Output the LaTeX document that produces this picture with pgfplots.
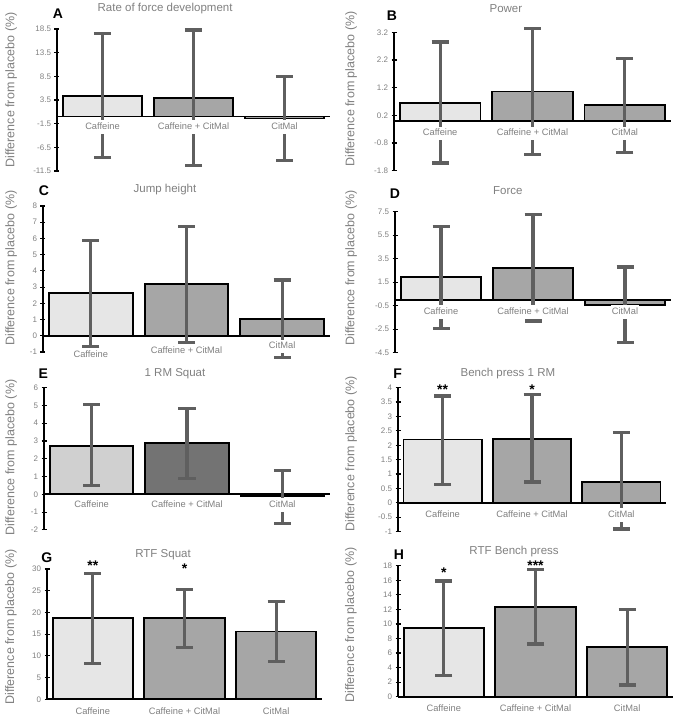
\documentclass[border=0pt]{standalone}
\usepackage{pgfplots}
\pgfplotsset{compat=1.18}
\usepackage{fontspec}
\setmainfont{Liberation Sans}
\definecolor{lightbar}{HTML}{E6E6E6}
\definecolor{midbar}{HTML}{A6A6A6}
\definecolor{elight}{HTML}{D0D0D0}
\definecolor{edark}{HTML}{737373}
\definecolor{errgray}{HTML}{5F5F5F}
\definecolor{txtgray}{HTML}{808080}
\pgfplotsset{
  every axis title shift=0pt,
  panel/.style n args={4}{
    scale only axis,
    clip=false,
    axis x line=middle,
    axis y line=left,
    axis line style={-, black, line width=1.8pt},
    every inner x axis line/.append style={-},
    every outer x axis line/.append style={-},
    every inner y axis line/.append style={-},
    every outer y axis line/.append style={-},
    xmin=-0.5, xmax=2.5,
    xtick=\empty,
    major tick style={black, line width=1.2pt},
    major tick length=5pt,
    tick align=center,
    yticklabel style={font=\fontsize{8}{9}\selectfont, text=txtgray},
    /pgf/number format/assume math mode=true,
    title style={font=\fontsize{11.5}{13}\selectfont, text=txtgray, anchor=center, yshift=0pt, at={(axis description cs:#1,#2)}},
    ylabel={Difference from placebo (\%)},
    ylabel style={font=\fontsize{12.5}{14}\selectfont, text=txtgray, anchor=center, at={(axis description cs:#3,#4)}},
  },
  bars/.style={ybar, bar width=0.875, bar shift=0pt, draw=black, line width=1.8pt, fill=#1,
    error bars/.cd, y dir=both, y explicit,
    error bar style={line width=3.2pt, errgray},
    error mark options={rotate=90, line width=3.2pt, mark size=8.5pt, errgray}},
}
\tikzset{
  xlab/.style={font=\fontsize{9.3}{11}\selectfont, text=txtgray, fill=white, inner xsep=1pt, inner ysep=2.2pt, text height=7pt, text depth=2.3pt, anchor=center},
  sigstar/.style={font=\fontsize{14}{16}\selectfont\bfseries, text=black, anchor=base, inner sep=0pt, yshift=-8pt},
}
\begin{document}
\begin{tikzpicture}[x=1pt,y=1pt]
\useasboundingbox (0,0) rectangle (676,718);

% A
\begin{axis}[panel={0.396}{1.146}{-0.168}{0.57}, at={(57pt,547pt)}, anchor=south west,
  width=273pt, height=142pt, ymin=-11.5, ymax=18.5,
  ytick={-11.5,-6.5,-1.5,3.5,8.5,13.5,18.5}, title={Rate of force development}]
\addplot[bars=lightbar] coordinates {(0,4.35) += (0,13.25) -= (0,13.05)};
\addplot[bars=midbar] coordinates {(1,4.0) += (0,14.3) -= (0,14.4)};
\addplot[bars=midbar] coordinates {(2,-0.4) += (0,8.8) -= (0,8.8)};
\node[xlab, yshift=-10.7pt] at (axis cs:0,0) {Caffeine};
\node[xlab, yshift=-10.7pt] at (axis cs:1,0) {Caffeine + CitMal};
\node[xlab, yshift=-10.7pt] at (axis cs:2,0) {CitMal};
\end{axis}

% B
\begin{axis}[panel={0.404}{1.173}{-0.155}{0.59}, at={(394pt,547.3pt)}, anchor=south west,
  width=277pt, height=138.4pt, ymin=-1.8, ymax=3.2,
  ytick={-1.8,-0.8,0.2,1.2,2.2,3.2}, title={Power}]
\addplot[bars=lightbar] coordinates {(0,0.66) += (0,2.19) -= (0,2.18)};
\addplot[bars=midbar] coordinates {(1,1.06) += (0,2.27) -= (0,2.27)};
\addplot[bars=midbar] coordinates {(2,0.58) += (0,1.66) -= (0,1.71)};
\node[xlab, yshift=-12.7pt] at (axis cs:0,0) {Caffeine};
\node[xlab, yshift=-12.7pt] at (axis cs:1,0) {Caffeine + CitMal};
\node[xlab, yshift=-12.7pt] at (axis cs:2,0) {CitMal};
\end{axis}

% C
\begin{axis}[panel={0.425}{1.11}{-0.111}{0.575}, at={(43pt,366pt)}, anchor=south west,
  width=287pt, height=146pt, ymin=-1, ymax=8,
  ytick={-1,0,1,2,3,4,5,6,7,8}, title={Jump height}]
\addplot[bars=lightbar] coordinates {(0,2.62) += (0,3.24) -= (0,3.30)};
\addplot[bars=midbar] coordinates {(1,3.17) += (0,3.56) -= (0,3.60)};
\addplot[bars=midbar] coordinates {(2,1.01) += (0,2.43) -= (0,2.37)};
\node[xlab, yshift=-19.7pt] at (axis cs:0,0) {Caffeine};
\node[xlab, yshift=-15pt] at (axis cs:1,0) {Caffeine + CitMal};
\node[xlab, yshift=-10.7pt] at (axis cs:2,0) {CitMal};
\end{axis}

% D
\begin{axis}[panel={0.409}{1.149}{-0.159}{0.60}, at={(395pt,365.3pt)}, anchor=south west,
  width=276pt, height=141pt, ymin=-4.5, ymax=7.5,
  ytick={-4.5,-2.5,-0.5,1.5,3.5,5.5,7.5}, title={Force}]
\addplot[bars=lightbar] coordinates {(0,1.94) += (0,4.32) -= (0,4.39)};
\addplot[bars=midbar] coordinates {(1,2.74) += (0,4.51) -= (0,4.54)};
\addplot[bars=midbar] coordinates {(2,-0.41) += (0,3.20) -= (0,3.23)};
\node[xlab, yshift=-12.2pt] at (axis cs:0,0) {Caffeine};
\node[xlab, yshift=-12.2pt] at (axis cs:1,0) {Caffeine + CitMal};
\node[xlab, yshift=-12.2pt] at (axis cs:2,0) {CitMal};
\end{axis}

% E
\begin{axis}[panel={0.458}{1.101}{-0.115}{0.51}, at={(44pt,188.1pt)}, anchor=south west,
  width=286pt, height=142.2pt, ymin=-2, ymax=6,
  ytick={-2,-1,0,1,2,3,4,5,6}, title={1 RM Squat}]
\addplot[bars=elight] coordinates {(0,2.72) += (0,2.35) -= (0,2.24)};
\addplot[bars=edark] coordinates {(1,2.88) += (0,1.94) -= (0,1.97)};
\addplot[bars=midbar] coordinates {(2,-0.1) += (0,1.44) -= (0,1.56)};
\node[xlab, yshift=-11pt] at (axis cs:0,0) {Caffeine};
\node[xlab, yshift=-11pt] at (axis cs:1,0) {Caffeine + CitMal};
\node[xlab, yshift=-11pt] at (axis cs:2,0) {CitMal};
\end{axis}

% F
\begin{axis}[panel={0.41}{1.10}{-0.175}{0.54}, at={(398pt,186.4pt)}, anchor=south west,
  width=268pt, height=143.9pt, ymin=-1, ymax=4,
  ytick={-1,-0.5,0,0.5,1,1.5,2,2.5,3,3.5,4}, title={Bench press 1 RM}]
\addplot[bars=lightbar] coordinates {(0,2.2) += (0,1.51) -= (0,1.56)};
\addplot[bars=midbar] coordinates {(1,2.23) += (0,1.54) -= (0,1.51)};
\addplot[bars=midbar] coordinates {(2,0.72) += (0,1.71) -= (0,1.63)};
\node[xlab, yshift=-12pt] at (axis cs:0,0) {Caffeine};
\node[xlab, yshift=-12pt] at (axis cs:1,0) {Caffeine + CitMal};
\node[xlab, yshift=-12pt] at (axis cs:2,0) {CitMal};
\node[sigstar] at (axis cs:0,4.03) {**};
\node[sigstar] at (axis cs:1,4.03) {*};
\end{axis}

% G
\begin{axis}[panel={0.422}{1.113}{-0.131}{0.555}, at={(47pt,18.7pt)}, anchor=south west,
  width=275pt, height=130.3pt, ymin=0, ymax=30,
  ytick={0,5,10,15,20,25,30}, title={RTF Squat}]
\addplot[bars=lightbar] coordinates {(0,18.7) += (0,10.3) -= (0,10.4)};
\addplot[bars=midbar] coordinates {(1,18.7) += (0,6.6) -= (0,6.8)};
\addplot[bars=midbar] coordinates {(2,15.6) += (0,6.9) -= (0,6.9)};
\node[xlab, yshift=-12.4pt] at (axis cs:0,0) {Caffeine};
\node[xlab, yshift=-12.4pt] at (axis cs:1,0) {Caffeine + CitMal};
\node[xlab, yshift=-12.4pt] at (axis cs:2,0) {CitMal};
\node[sigstar] at (axis cs:0,31.4) {**};
\node[sigstar] at (axis cs:1,30.7) {*};
\end{axis}

% H
\begin{axis}[panel={0.422}{1.107}{-0.171}{0.547}, at={(398pt,21.3pt)}, anchor=south west,
  width=275pt, height=131pt, ymin=0, ymax=18,
  ytick={0,2,4,6,8,10,12,14,16,18}, title={RTF Bench press}]
\addplot[bars=lightbar] coordinates {(0,9.48) += (0,6.42) -= (0,6.58)};
\addplot[bars=midbar] coordinates {(1,12.36) += (0,5.14) -= (0,5.12)};
\addplot[bars=midbar] coordinates {(2,6.78) += (0,5.22) -= (0,5.18)};
\node[xlab, yshift=-12.3pt] at (axis cs:0,0) {Caffeine};
\node[xlab, yshift=-12.3pt] at (axis cs:1,0) {Caffeine + CitMal};
\node[xlab, yshift=-12.3pt] at (axis cs:2,0) {CitMal};
\node[sigstar] at (axis cs:0,17.5) {*};
\node[sigstar] at (axis cs:1,18.5) {***};
\end{axis}

\begin{scope}[every node/.style={font=\fontsize{14}{16}\selectfont\bfseries, text=black, inner sep=0pt, anchor=center}]
\node at (58,704) {A};
\node at (392,702.3) {B};
\node at (44,527.3) {C};
\node at (395,524.7) {D};
\node at (43.3,344.7) {E};
\node at (397.7,344.7) {F};
\node at (46.7,160.3) {G};
\node at (399,163) {H};
\end{scope}
\end{tikzpicture}
\end{document}
